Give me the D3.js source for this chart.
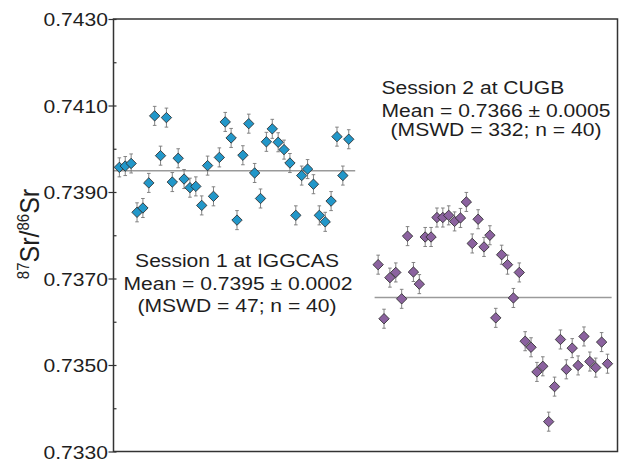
<!DOCTYPE html>
<html>
<head>
<meta charset="utf-8">
<script src="https://cdn.jsdelivr.net/npm/d3@7"></script>
<style>
  body { margin: 0; background: #fff; }
  text { font-family: "Liberation Sans", Arial, sans-serif; fill: #1e1e1e; }
</style>
</head>
<body>
<div id="chart"></div>
<script>
/*global d3*/

// measured 87Sr/86Sr, one value per analysis
var session1 = [0.73957, 0.73960, 0.73966, 0.73853, 0.73863, 0.73921, 0.74076, 0.73984, 0.74072, 0.73923,
  0.73978, 0.73930, 0.73910, 0.73913, 0.73869, 0.73961, 0.73890, 0.73980, 0.74062, 0.74025,
  0.73835, 0.73985, 0.74058, 0.73944, 0.73885, 0.74016, 0.74046, 0.74015, 0.73998, 0.73967,
  0.73846, 0.73938, 0.73953, 0.73918, 0.73846, 0.73831, 0.73879, 0.74028, 0.73938, 0.74022];
var session2 = [0.73732, 0.73607, 0.73702, 0.73714, 0.73653, 0.73798, 0.73715, 0.73687, 0.73796, 0.73796,
  0.73841, 0.73841, 0.73846, 0.73832, 0.73840, 0.73877, 0.73781, 0.73837, 0.73773, 0.73800,
  0.73609, 0.73755, 0.73732, 0.73655, 0.73714, 0.73555, 0.73541, 0.73484, 0.73497, 0.73369,
  0.73450, 0.73559, 0.73490, 0.73539, 0.73499, 0.73566, 0.73508, 0.73494, 0.73553, 0.73503];
var errorBar = 0.00022;
var means = [0.73949, 0.73656];
var yTicks = [0.7330, 0.7350, 0.7370, 0.7390, 0.7410, 0.7430];
var yMinor = [0.7340, 0.7360, 0.7380, 0.7400, 0.7420];
var labels1 = ["Session 1 at IGGCAS", "Mean = 0.7395 \u00b1 0.0002", "(MSWD = 47; n = 40)"];
var labels2 = ["Session 2 at CUGB", "Mean = 0.7366 \u00b1 0.0005", "(MSWD = 332; n = 40)"];

var width = 619,
  height = 464,
  margin = {top: 19, right: 1.5, bottom: 12.5, left: 113.5},
  stretch = 1.14; // the picture is a bit wider than tall

var svg = d3.select("#chart").append("svg")
  .attr("width", width)
  .attr("height", height);

var x = d3.scaleLinear()
  .domain([-1, 84.7])
  .range([margin.left, width - margin.right]);

var y = d3.scaleLinear()
  .domain([0.7330, 0.7430])
  .range([height - margin.bottom, margin.top]);

var points = session1.map(function(v, i) { return {i: i, v: v, c: "#2297c9"}; })
  .concat(session2.map(function(v, i) { return {i: i + 44, v: v, c: "#8b629f"}; }));

// mean lines
svg.selectAll(".mean")
  .data([[-1, 40.1, means[0]], [43.4, 83.7, means[1]]])
  .enter()
  .append("line")
  .attr("x1", function(d) { return x(d[0]); })
  .attr("x2", function(d) { return x(d[1]); })
  .attr("y1", function(d) { return y(d[2]); })
  .attr("y2", function(d) { return y(d[2]); })
  .style("stroke", "#9a9a9a")
  .style("stroke-width", 1.5);

// error bars
var eb = svg.selectAll(".err")
  .data(points)
  .enter()
  .append("g")
  .style("stroke", "#777")
  .style("stroke-width", 0.9);
eb.append("line")
  .attr("x1", function(d) { return x(d.i); })
  .attr("x2", function(d) { return x(d.i); })
  .attr("y1", function(d) { return y(d.v - errorBar); })
  .attr("y2", function(d) { return y(d.v + errorBar); });
eb.selectAll(".cap")
  .data(function(d) { return [[d.i, d.v - errorBar], [d.i, d.v + errorBar]]; })
  .enter()
  .append("line")
  .attr("x1", function(d) { return x(d[0]) - 1.8; })
  .attr("x2", function(d) { return x(d[0]) + 1.8; })
  .attr("y1", function(d) { return y(d[1]); })
  .attr("y2", function(d) { return y(d[1]); });

// diamonds
svg.selectAll(".pt")
  .data(points)
  .enter()
  .append("path")
  .attr("d", d3.symbol().type(d3.symbolSquare).size(54))
  .attr("transform", function(d) {
    return "translate(" + x(d.i) + "," + y(d.v) + ") rotate(45)";
  })
  .style("fill", function(d) { return d.c; })
  .style("stroke", "#2b2b2b")
  .style("stroke-width", 0.8);

// frame
svg.append("rect")
  .attr("x", margin.left)
  .attr("y", margin.top)
  .attr("width", width - margin.left - margin.right)
  .attr("height", height - margin.top - margin.bottom)
  .style("fill", "none")
  .style("stroke", "#333")
  .style("stroke-width", 1.5);

// y axis: outer ticks with labels, inner ticks every 0.001
var yAxis = svg.append("g")
  .attr("transform", "translate(" + margin.left + ",0)")
  .call(d3.axisLeft(y).tickValues(yTicks).tickSize(5).tickFormat(d3.format(".4f")));
yAxis.select(".domain").remove();
yAxis.selectAll("line").style("stroke", "#333").style("stroke-width", 1.2);
yAxis.selectAll("text")
  .attr("x", -5.5 / stretch)
  .attr("dy", "0.36em")
  .attr("transform", "scale(" + stretch + ",1)")
  .style("font-size", "18.5px")
  .style("font-family", "'Liberation Sans', Arial, sans-serif")
  .style("fill", "#1e1e1e");

var yInner = svg.append("g")
  .attr("transform", "translate(" + margin.left + ",0)")
  .call(d3.axisRight(y).tickValues(yTicks.concat(yMinor)).tickSize(3).tickFormat(""));
yInner.select(".domain").remove();
yInner.selectAll("line").style("stroke", "#333").style("stroke-width", 1.2);

// axis title
var title = svg.append("text")
  .attr("transform", "translate(39,234) rotate(-90) scale(1," + stretch + ")")
  .attr("text-anchor", "middle")
  .style("font-size", "25px");
title.append("tspan").attr("baseline-shift", "super").style("font-size", "15px").text("87");
title.append("tspan").text("Sr/");
title.append("tspan").attr("baseline-shift", "super").style("font-size", "15px").text("86");
title.append("tspan").text("Sr");

// annotations
function block(lines, pos) {
  lines.forEach(function(t, k) {
    svg.append("text")
      .attr("transform", "translate(" + pos[k][0] + "," + pos[k][1] + ") scale(" + stretch + ",1)")
      .attr("text-anchor", pos[k][2])
      .style("font-size", "18.5px")
      .text(t);
  });
}
block(labels1, [[237, 266.5, "middle"], [238, 289.5, "middle"], [237, 311.5, "middle"]]);
block(labels2, [[381.5, 94, "start"], [496, 116.5, "middle"], [496, 136, "middle"]]);
</script>
</body>
</html>
